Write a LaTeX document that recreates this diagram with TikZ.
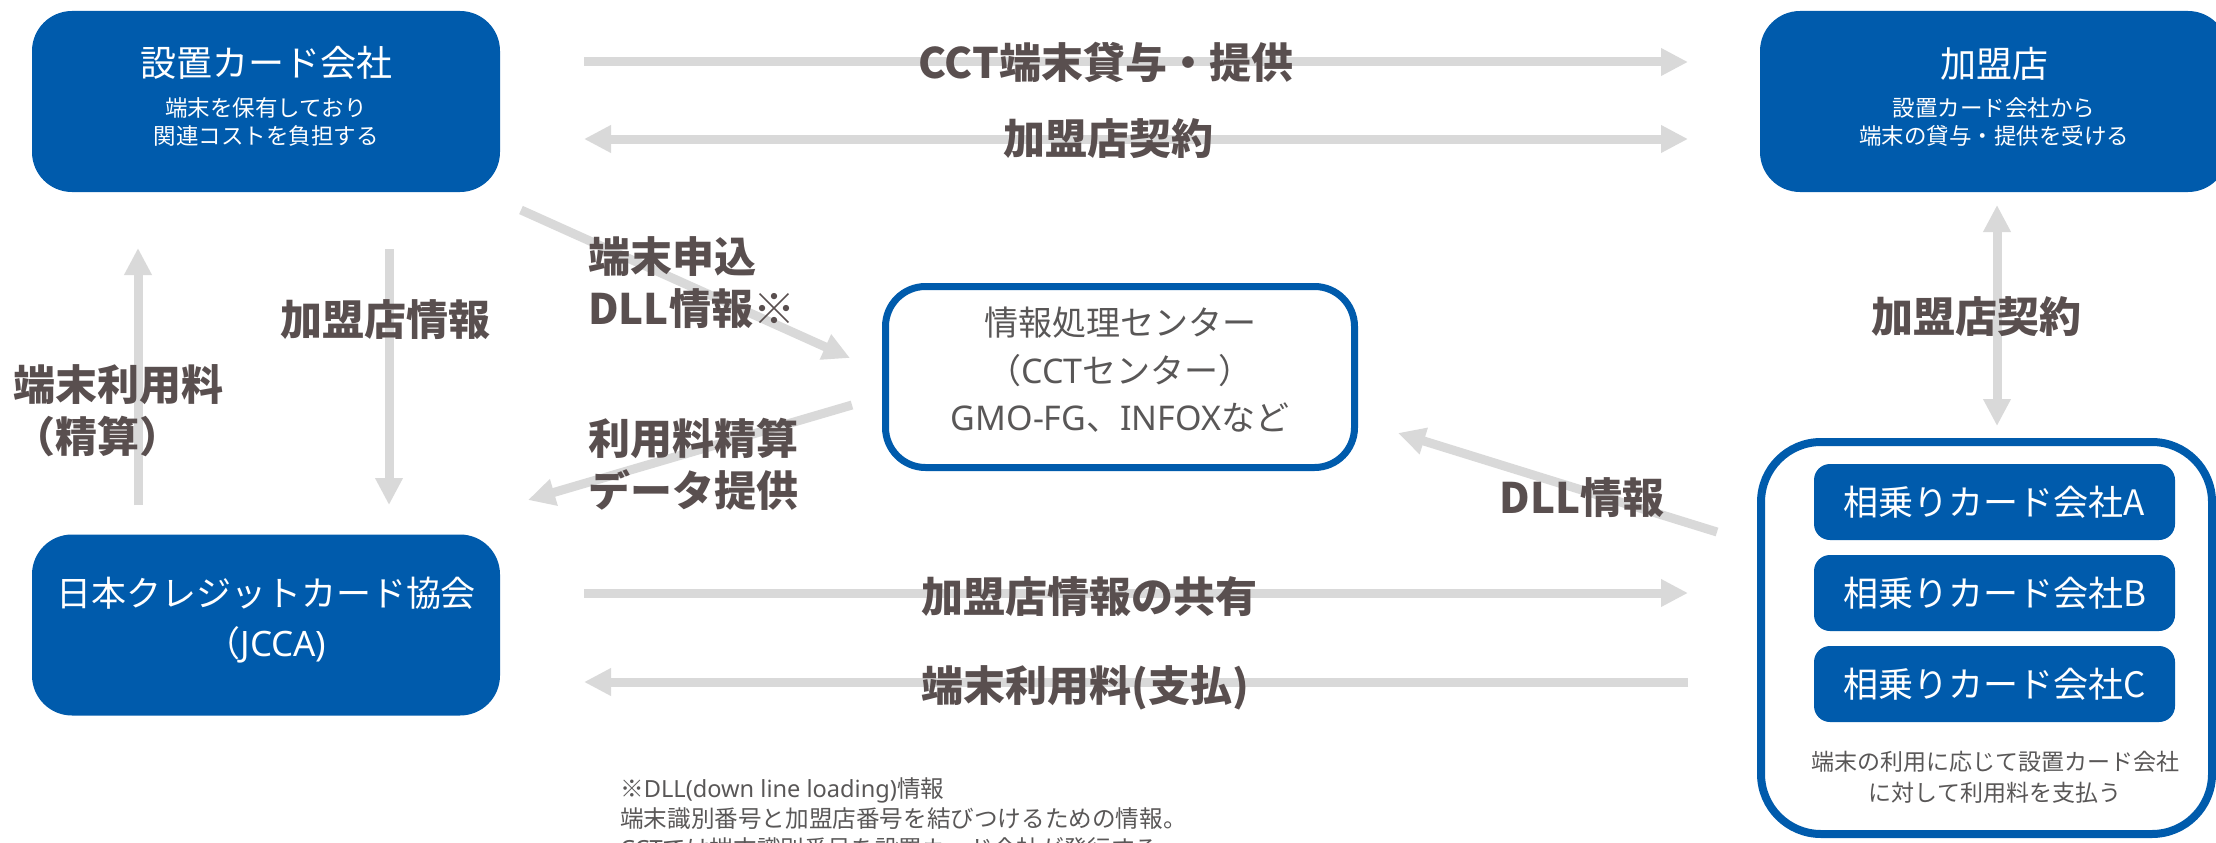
\documentclass[tikz,border=0pt]{standalone}
\usepackage{fontspec}
\setmainfont{Noto Sans CJK JP}
\newfontfamily\latinf{Noto Sans}
\usetikzlibrary{arrows.meta}
\definecolor{cblue}{RGB}{0,91,172}
\definecolor{agray}{RGB}{217,217,217}
\definecolor{lgray}{RGB}{89,79,79}
\definecolor{tgray}{RGB}{89,87,87}
\tikzset{
  bluebox/.style={fill=cblue, draw=none, rounded corners=40pt, minimum width=468pt, minimum height=181pt, inner sep=0pt},
  whitebox/.style={fill=white, draw=cblue, line width=7pt, rounded corners=40pt, minimum width=469pt, minimum height=181pt, inner sep=0pt},
  outerbox/.style={fill=white, draw=cblue, line width=8pt, rounded corners=60pt, minimum width=451pt, minimum height=392pt, inner sep=0pt},
  innerbox/.style={fill=cblue, draw=none, rounded corners=16pt, minimum width=361pt, minimum height=76pt, inner sep=0pt, text=white, font=\fontsize{35}{42}\selectfont},
  tip/.tip={Triangle[width=26pt,length=27pt]},
  garrow/.style={draw=agray, line width=9pt, -tip},
  garrowboth/.style={draw=agray, line width=9pt, tip-tip},
  lbl/.style={font=\bfseries\fontsize{42}{52}\selectfont, text=lgray, inner sep=0pt, align=left},
  wtitle/.style={text=white, inner sep=0pt, font=\fontsize{36}{44}\selectfont},
  wsub/.style={text=white, inner sep=0pt, align=center, font=\fontsize{22.5}{28}\selectfont},
  gtext/.style={text=tgray, inner sep=0pt, align=center},
}
\begin{document}
\begin{tikzpicture}[x=1pt,y=-1pt]
\useasboundingbox (0,0) rectangle (2216,843);
% boxes
\node[bluebox] (setchi) at (266,101.5) {};
\node[wtitle] (setchit) at (266,63) {設置カード会社};
\node[wsub] (setchis) at (266,122) {端末を保有しており\\関連コストを負担する};
\node[bluebox] (kamei) at (1994,101.5) {};
\node[wtitle] (kameit) at (1994,64) {加盟店};
\node[wsub] (kameis) at (1994,122) {設置カード会社から\\端末の貸与・提供を受ける};
\node[bluebox] (jcca) at (266,625) {};
\node[text=white, inner sep=0pt, align=center, font=\fontsize{35}{50}\selectfont] (jccat) at (266,620) {日本クレジットカード協会\\（{\latinf JCCA)}};
\node[whitebox] (center) at (1120,377) {};
\node[gtext, font=\fontsize{34}{47.5}\selectfont] (centert) at (1120,370) {情報処理センター\\（{\latinf CCT}センター）\\{\latinf GMO-FG}、{\latinf INFOX}など};
\node[outerbox] (outer) at (1986.5,638) {};
\node[innerbox] (ca) at (1994.5,502) {相乗りカード会社A};
\node[innerbox] (cb) at (1994.5,593) {相乗りカード会社B};
\node[innerbox] (cc) at (1994.5,684) {相乗りカード会社C};
\node[gtext, font=\fontsize{23}{31}\selectfont] (capt) at (1995,777.5) {端末の利用に応じて設置カード会社\\に対して利用料を支払う};
% arrow end points
\coordinate (a1s) at (584,62);   \coordinate (a1e) at (1688,62);
\coordinate (a2s) at (584,139);  \coordinate (a2e) at (1688,139);
\coordinate (a3s) at (521,210);  \coordinate (a3e) at (850,358);
\coordinate (a4s) at (852,405);  \coordinate (a4e) at (528,500);
\coordinate (a5s) at (138,505);  \coordinate (a5e) at (138,248);
\coordinate (a6s) at (389,249);  \coordinate (a6e) at (389,505);
\coordinate (a7s) at (1997,205); \coordinate (a7e) at (1997,426);
\coordinate (a8s) at (1717,532); \coordinate (a8e) at (1398,433);
\coordinate (a9s) at (584,593);  \coordinate (a9e) at (1688,593);
\coordinate (a10s) at (1688,682); \coordinate (a10e) at (584,682);
% arrows
\draw[garrow] (a1s) -- (a1e);
\draw[garrowboth] (a2s) -- (a2e);
\draw[garrow] (a3s) -- (a3e);
\draw[garrow] (a4s) -- (a4e);
\draw[garrow] (a5s) -- (a5e);
\draw[garrow] (a6s) -- (a6e);
\draw[garrowboth] (a7s) -- (a7e);
\draw[garrow] (a8s) -- (a8e);
\draw[garrow] (a9s) -- (a9e);
\draw[garrow] (a10s) -- (a10e);
% labels
\node[lbl] (l1) at (1106,62) {CCT端末貸与・提供};
\node[lbl] (l2) at (1108,139) {加盟店契約};
\node[lbl, anchor=west] (l3) at (588,283) {端末申込\\DLL情報※};
\node[lbl, anchor=west] (l4) at (588,464) {利用料精算\\データ提供};
\node[lbl, anchor=west] (l5) at (13,411) {端末利用料\\（精算）};
\node[lbl] (l6) at (385,320) {加盟店情報};
\node[lbl] (l7) at (1976,317) {加盟店契約};
\node[lbl] (l8) at (1582,498) {DLL情報};
\node[lbl, anchor=west] (l9) at (921,597) {加盟店情報の共有};
\node[lbl, anchor=west] (l10) at (921,688) {端末利用料(支払)};
% footnote
\node[text=tgray, inner sep=0pt, align=left, anchor=west, font=\fontsize{23.6}{30}\selectfont] (foot) at (620,819) {※{\latinf DLL(down line loading)}情報\\端末識別番号と加盟店番号を結びつけるための情報。\\{\latinf CCT}では端末識別番号を設置カード会社が発行する};
\end{tikzpicture}
\end{document}
